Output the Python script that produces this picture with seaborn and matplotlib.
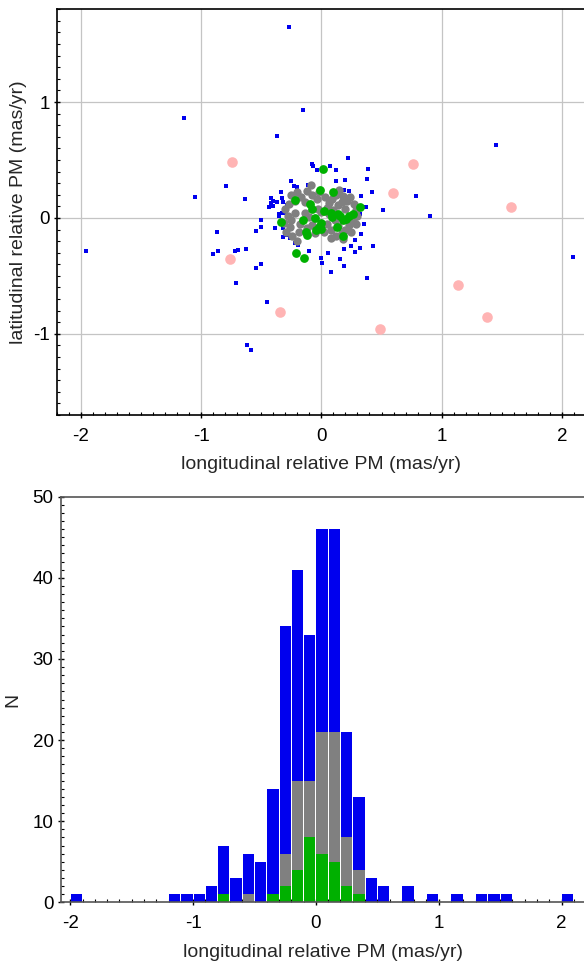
import numpy as np
import pandas as pd
import matplotlib
matplotlib.use("Agg")
import matplotlib.pyplot as plt
import seaborn as sns
from matplotlib.ticker import MultipleLocator

# ---------------- data ----------------
# field stars (blue squares)
blue_x = [-0.266, -1.141, -0.366, -1.053, -0.79, -0.637, -1.959, -0.87, -0.904, -0.862,
          -0.72, -0.696, -0.626, -0.709, -0.546, -0.504, -0.449, -0.619, -0.588, -0.504,
          -0.504, -0.546, -0.385, -0.333, -0.255, -0.23, -0.202, -0.416, -0.40, -0.42,
          -0.435, -0.366, -0.327, -0.316, -0.285, -0.355, -0.352, -0.33, -0.299, -0.316,
          -0.318, -0.291, -0.263, -0.219, -0.152, 1.449, 0.219, 0.388, -0.078, -0.066,
          -0.039, 0.069, 0.119, 0.382, 0.2, 0.119, 0.185, 0.23, 0.327, 0.421,
          0.784, 0.371, 0.512, 0.906, 0.319, 0.352, 0.327, 0.277, 0.249, 0.321,
          0.28, 0.427, 0.191, -0.105, 0.056, -0.006, 0.008, 0.158, 0.188, 0.077,
          0.382, 2.095, -0.216, -0.11, -0.405, -0.299, -0.194]
blue_y = [1.648, 0.863, 0.705, 0.184, 0.278, 0.161, -0.286, -0.117, -0.31, -0.286,
          -0.286, -0.275, -0.266, -0.559, -0.432, -0.401, -0.725, -1.10, -1.143, -0.017,
          -0.08, -0.109, -0.091, 0.224, 0.316, 0.278, 0.267, 0.17, 0.15, 0.13,
          0.098, 0.135, 0.169, 0.141, 0.109, 0.038, 0.017, 0.043, 0.046, -0.083,
          -0.163, -0.149, -0.169, -0.215, 0.935, 0.631, 0.519, 0.425, 0.468, 0.447,
          0.413, 0.447, 0.413, 0.333, 0.33, 0.318, 0.244, 0.235, 0.193, 0.224,
          0.193, 0.098, 0.066, 0.015, 0.038, -0.048, -0.14, -0.192, -0.243, -0.255,
          -0.298, -0.243, -0.266, -0.286, -0.306, -0.347, -0.392, -0.358, -0.413, -0.464,
          -0.516, -0.341, -0.212, 0.287, 0.107, -0.134, -0.235]

# cluster members (gray)
gray_x = [-0.25, -0.20, -0.17, -0.12, -0.09, -0.08, -0.04, -0.14, -0.22, -0.27, -0.02,
          0.03, 0.06, 0.09, 0.12, 0.15, 0.18, 0.21, 0.24, 0.27, 0.14, 0.05, 0.20, 0.10, 0.29, 0.17,
          -0.30, -0.28, -0.31, -0.26, -0.29, -0.24, -0.20, -0.22, -0.18, -0.19, -0.25,
          -0.14, -0.10, -0.08, -0.12, -0.05, 0.02, 0.05, 0.08, 0.11, 0.14, 0.17, 0.20,
          0.23, 0.26, 0.29, 0.30, 0.25, 0.18, 0.12, 0.06, 0.00, -0.03, 0.22, 0.08]
gray_y = [0.20, 0.22, 0.18, 0.23, 0.28, 0.20, 0.16, 0.14, 0.15, 0.12, 0.22,
          0.18, 0.13, 0.16, 0.20, 0.24, 0.19, 0.15, 0.18, 0.12, 0.11, 0.09, 0.08, 0.07, 0.07, 0.14,
          0.08, 0.02, -0.04, -0.08, -0.12, -0.16, -0.20, 0.04, -0.05, -0.12, -0.02,
          0.04, 0.01, -0.06, -0.09, -0.13, -0.12, -0.05, -0.10, -0.02, -0.07, -0.13, -0.10,
          -0.06, -0.03, -0.05, 0.02, -0.12, -0.18, -0.16, 0.03, 0.05, 0.08, -0.01, -0.17]

# high-probability members (green)
green_x = [0.017, -0.011, 0.10, -0.222, -0.094, -0.075, 0.322, 0.019, 0.083, 0.138,
           0.152, 0.263, 0.23, 0.205, 0.091, -0.056, -0.155, -0.335, -0.003, -0.017,
           -0.042, -0.003, 0.127, 0.18, -0.13, -0.122, 0.183, -0.214, -0.141]
green_y = [0.421, 0.244, 0.224, 0.152, 0.124, 0.081, 0.092, 0.058, 0.046, 0.032,
           0.021, 0.038, 0.017, -0.011, 0.012, 0.003, -0.017, -0.037, -0.046, -0.074,
           -0.106, -0.094, -0.08, -0.02, -0.12, -0.146, -0.155, -0.301, -0.347]

# outliers (pink)
pink_x = [-0.74, -0.762, -0.347, 0.765, 0.593, 1.579, 1.139, 1.38, 0.49]
pink_y = [0.485, -0.358, -0.81, 0.464, 0.215, 0.098, -0.579, -0.851, -0.957]

# histogram (bin left edges, width 0.1) and counts
all_bins = [-2.0, -1.2, -1.1, -1.0, -0.9, -0.8, -0.7, -0.6, -0.5, -0.4, -0.3, -0.2, -0.1,
            0.0, 0.1, 0.2, 0.3, 0.4, 0.5, 0.7, 0.9, 1.1, 1.3, 1.4, 1.5, 2.0]
all_counts = [1, 1, 1, 1, 2, 7, 3, 6, 5, 14, 34, 41, 33,
              46, 46, 21, 13, 3, 2, 2, 1, 1, 1, 1, 1, 1]
gray_bins = [-0.8, -0.6, -0.4, -0.3, -0.2, -0.1, 0.0, 0.1, 0.2, 0.3]
gray_counts = [1, 1, 1, 6, 15, 15, 21, 21, 8, 4]
green_bins = [-0.8, -0.4, -0.3, -0.2, -0.1, 0.0, 0.1, 0.2, 0.3]
green_counts = [1, 1, 2, 4, 8, 6, 5, 2, 1]

# ---------------- style ----------------
sns.set_theme(style="ticks")
plt.rcParams['font.family'] = ['Liberation Sans', 'DejaVu Sans']
plt.rcParams['axes.unicode_minus'] = False

BLUE = "#0000ee"
GRAY = "#808080"
GREEN = "#00b000"
PINK = "#ffb4b4"

W, H = 584, 967
fig = plt.figure(figsize=(W / 100, H / 100), dpi=100)

def frac(left, top, width, height):
    return [left / W, 1 - (top + height) / H, width / W, height / H]

ax1 = fig.add_axes(frac(56.7, 9.3, 4.4 * 120.3, 405.7))
ax2 = fig.add_axes(frac(60.5, 496.7, 4.28 * 122.8, 405.6))

# ---- scatter ----
sns.scatterplot(x=pink_x, y=pink_y, color=PINK, s=58, linewidth=0, ax=ax1, zorder=3)
sns.scatterplot(x=blue_x, y=blue_y, color=BLUE, marker='s', s=7.5, linewidth=0, ax=ax1, zorder=3)
sns.scatterplot(x=gray_x, y=gray_y, color=GRAY, s=36, linewidth=0, ax=ax1, zorder=4)
sns.scatterplot(x=green_x, y=green_y, color=GREEN, s=40, linewidth=0, ax=ax1, zorder=5)

ax1.set_xlim(-2.2, 2.2)
ax1.set_ylim(-1.7, 1.8)
ax1.xaxis.set_major_locator(MultipleLocator(1))
ax1.yaxis.set_major_locator(MultipleLocator(1))
ax1.xaxis.set_minor_locator(MultipleLocator(0.1))
ax1.yaxis.set_minor_locator(MultipleLocator(0.1))
ax1.grid(True, which='major', color='#c4c4c4', linewidth=0.9)
ax1.set_axisbelow(True)
ax1.set_xlabel("longitudinal relative PM (mas/yr)", fontsize=14, labelpad=8)
ax1.set_ylabel("latitudinal relative PM (mas/yr)", fontsize=14, labelpad=4)

# ---- histogram ----
for bins_, counts_, col in [(all_bins, all_counts, BLUE),
                            (gray_bins, gray_counts, GRAY),
                            (green_bins, green_counts, GREEN)]:
    df = pd.DataFrame({"x": np.array(bins_) + 0.05, "w": counts_})
    sns.histplot(data=df, x="x", weights="w", binwidth=0.1, binrange=(-2.0, 2.1),
                 color=col, alpha=1, linewidth=0, shrink=0.92, ax=ax2)

ax2.set_xlim(-2.08, 2.2)
ax2.set_ylim(0, 50)
ax2.xaxis.set_major_locator(MultipleLocator(1))
ax2.yaxis.set_major_locator(MultipleLocator(10))
ax2.xaxis.set_minor_locator(MultipleLocator(0.1))
ax2.yaxis.set_minor_locator(MultipleLocator(1))
ax2.set_xlabel("longitudinal relative PM (mas/yr)", fontsize=14, labelpad=8)
ax2.set_ylabel("N", fontsize=14, labelpad=8)

for ax, spc in [(ax1, 'black'), (ax2, '#555555')]:
    for side in ['left', 'bottom', 'top', 'right']:
        ax.spines[side].set_visible(True)
        ax.spines[side].set_color(spc)
        ax.spines[side].set_linewidth(1.2)
    ax.tick_params(which='major', direction='inout', length=5, width=1, color='black',
                   labelsize=13.5, labelcolor='black')
    ax.tick_params(which='minor', direction='in', length=2.5, width=0.8, color='black')
    ax.tick_params(axis='x', which='major', pad=7)
    ax.tick_params(axis='y', which='major', pad=2.5)
    ax.tick_params(top=False, right=False, which='both')

fig.savefig("out.png", dpi=100)
